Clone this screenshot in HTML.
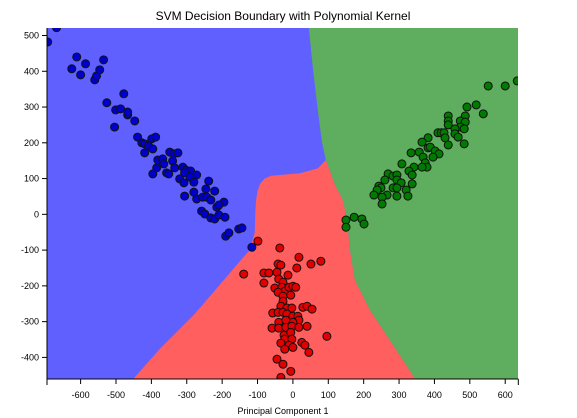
<!DOCTYPE html>
<html><head><meta charset="utf-8"><style>
html,body{margin:0;padding:0;background:#fff;}
svg{display:block;font-family:"Liberation Sans",Arial,sans-serif;}
</style></head><body>
<svg id="chart" width="577" height="418" xmlns="http://www.w3.org/2000/svg">
<defs><clipPath id="clip"><rect x="47" y="28" width="471" height="351"/></clipPath></defs>
<text x="283" y="20" text-anchor="middle" font-size="12" fill="#000">SVM Decision Boundary with Polynomial Kernel</text>
<g id="regions" clip-path="url(#clip)"></g>
<g id="points" clip-path="url(#clip)"></g>
<g id="axes"></g>
<text x="283" y="414" text-anchor="middle" font-size="9" fill="#000">Principal Component 1</text>
</svg>
<script>
const xTicks=[-600,-500,-400,-300,-200,-100,0,100,200,300,400,500,600];
const yTicks=[-400,-300,-200,-100,0,100,200,300,400,500];
const blueX=[-693,-668,-625,-611,-600,-586,-560,-555,-546,-535,-526,-478,-504,-501,-487,-467,-467,-447,-439,-427,-419,-408,-396,-399,-388,-419,-396,-382,-368,-348,-337,-325,-340,-365,-385,-357,-351,-334,-311,-303,-289,-272,-306,-291,-280,-320,-308,-238,-246,-221,-280,-306,-272,-255,-243,-232,-195,-215,-209,-258,-249,-232,-221,-209,-192,-190,-181,-153,-144,-116];
const blueY=[482,522,407,440,390,421,376,387,404,432,312,337,244,292,295,278,286,261,216,200,197,191,183,211,216,172,113,152,155,174,169,172,149,141,130,116,113,130,132,124,121,110,116,104,90,99,88,93,71,65,62,51,43,48,48,40,34,20,26,9,1,-10,-13,-2,-8,-61,-52,-41,-38,-92];
const redX=[-99,-37,17,51,79,-139,-82,-68,-45,-42,-34,11,-14,-82,-40,-28,-51,-31,-23,-11,0,8,-42,-28,-6,-28,-34,-17,-3,28,40,54,-57,-42,-28,-17,0,14,17,0,-40,-20,-59,-40,-20,-3,17,40,96,-25,-6,-23,-3,-34,-11,0,25,34,-23,45,-45,-28,-6,-34];
const redY=[-75,-94,-120,-139,-131,-167,-164,-164,-162,-139,-142,-150,-170,-192,-181,-190,-206,-204,-215,-204,-201,-204,-218,-229,-226,-243,-257,-262,-262,-260,-257,-265,-276,-274,-274,-279,-285,-285,-296,-302,-302,-296,-318,-318,-316,-313,-316,-313,-341,-338,-330,-349,-349,-360,-366,-372,-358,-366,-377,-386,-405,-419,-439,-456];
const greenX=[552,600,634,518,492,538,439,487,439,473,487,439,473,458,484,410,419,427,458,467,430,382,365,484,439,382,388,402,413,357,334,368,396,374,379,365,308,342,328,337,269,283,294,294,260,306,337,243,249,283,294,238,320,229,266,252,294,325,252,173,195,201,150,150];
const greenY=[359,359,373,306,300,281,275,275,261,261,258,250,244,239,239,228,228,228,225,216,214,214,202,197,194,186,188,177,169,174,172,160,160,144,132,132,141,132,121,110,113,107,110,96,96,88,85,79,74,74,74,68,68,54,54,48,51,51,29,-8,-13,-27,-16,-36];
// decision boundary curves (data units)
const bgBoundaryX=[45,57,71,82,93];
const bgBoundaryY=[521,404,286,203,152];
const redLeftX=[93,71,20,-37,-62,-80,-93,-100,-104,-106,-108,-122,-156,-192,-277,-376,-460];
const redLeftY=[152,129,115,110,108,100,85,65,40,12,-52,-100,-138,-180,-278,-376,-470];
const redRightX=[93,119,141,153,161,175,218,274,352];
const redRightY=[152,82,40,-16,-100,-184,-268,-352,-470];

const X0=-695,X1=637,PX0=47,PX1=518.3;
const Y0=-459,Y1=521,PY0=378.5,PY1=28;
const sx=v=>PX0+(v-X0)*(PX1-PX0)/(X1-X0);
const sy=v=>PY0-(v-Y0)*(PY0-PY1)/(Y1-Y0);
const NS="http://www.w3.org/2000/svg";
function mk(tag,attrs,parent){const e=document.createElementNS(NS,tag);for(const k in attrs)e.setAttribute(k,attrs[k]);parent.appendChild(e);return e;}
const reg=document.getElementById('regions');
let r=mk('rect',{x:40,y:20,width:500,height:370,fill:'#6060ff'},reg);


let gp=[];
for(let i=0;i<bgBoundaryX.length;i++)gp.push([sx(bgBoundaryX[i]),sy(bgBoundaryY[i])]);
for(let i=0;i<redRightX.length;i++)gp.push([sx(redRightX[i]),sy(redRightY[i])]);
gp.push([sx(700),sy(-470)]);gp.push([sx(700),sy(540)]);gp.push([sx(bgBoundaryX[0]),sy(540)]);
let g=mk('polygon',{points:gp.map(p=>p.join(',')).join(' '),fill:'#5fad5f'},reg);


let rp=[];
for(let i=0;i<redLeftX.length;i++)rp.push([sx(redLeftX[i]),sy(redLeftY[i])]);
for(let i=redRightX.length-1;i>=0;i--)rp.push([sx(redRightX[i]),sy(redRightY[i])]);
let rr=mk('polygon',{points:rp.map(p=>p.join(',')).join(' '),fill:'#ff5f5f','stroke-linejoin':'round'},reg);


const pts=document.getElementById('points');
function series(xs,ys,fill,name){for(let i=0;i<xs.length;i++){const c=mk('circle',{cx:sx(xs[i]),cy:sy(ys[i]),r:4,fill:fill,stroke:'#111','stroke-width':1},pts);

}}
series(redX,redY,'#e00000','red-point');
series(greenX,greenY,'#007a00','green-point');
series(blueX,blueY,'#0000cc','blue-point');
const ax=document.getElementById('axes');
let xl=mk('line',{x1:PX0,y1:379,x2:PX1,y2:379,stroke:'#000','stroke-width':1},ax);


mk('line',{x1:PX0,y1:379,x2:PX0,y2:385,stroke:'#000'},ax);
mk('line',{x1:PX1,y1:379,x2:PX1,y2:385,stroke:'#000'},ax);
xTicks.forEach(v=>{const x=sx(v);mk('line',{x1:x,y1:379,x2:x,y2:384,stroke:'#000'},ax);
const t=mk('text',{x:x,y:398,'text-anchor':'middle','font-size':9,fill:'#000'},ax);t.textContent=v;

});
let yl=mk('line',{x1:PX0,y1:PY1,x2:PX0,y2:379,stroke:'#000','stroke-width':1},ax);


yTicks.forEach(v=>{const y=sy(v);mk('line',{x1:PX0-5,y1:y,x2:PX0,y2:y,stroke:'#000'},ax);
const t=mk('text',{x:PX0-8,y:y+3,'text-anchor':'end','font-size':9,fill:'#000'},ax);t.textContent=v;

});
</script>
</body></html>
